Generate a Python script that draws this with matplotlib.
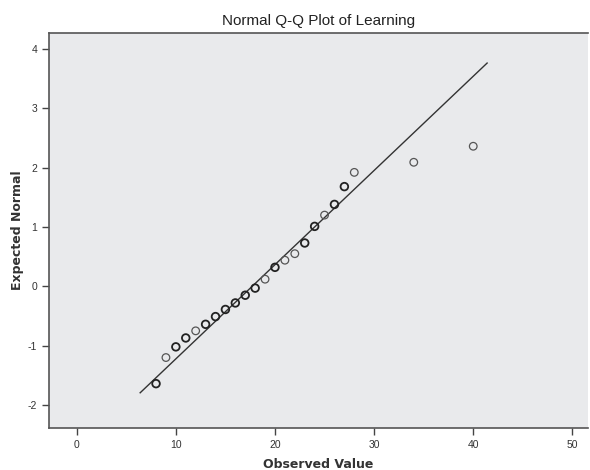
import matplotlib
matplotlib.use('Agg')
import matplotlib.pyplot as plt
import numpy as np

plt.rcParams['axes.unicode_minus'] = False

observed = [8, 9, 10, 11, 12, 13, 14, 15, 16, 17, 18, 19, 20, 21, 22, 23,
            24, 25, 26, 27, 28, 34, 40]
expected = [-1.64, -1.20, -1.02, -0.87, -0.75, -0.64, -0.51, -0.39, -0.28,
            -0.15, -0.03, 0.12, 0.32, 0.44, 0.55, 0.73, 1.01, 1.20, 1.38,
            1.68, 1.92, 2.09, 2.36]
# points that look darker (tied cases drawn on top of each other)
darker = [8, 10, 11, 13, 14, 15, 16, 17, 18, 20, 23, 24, 26, 27]

# reference line: normal with this mean / sd
line_mean = 17.7
line_sd = 6.3
line_x = [6.4, 41.4]

xticks = [0, 10, 20, 30, 40, 50]
yticks = [-2, -1, 0, 1, 2, 3, 4]

fig = plt.figure(figsize=(5.9, 4.7), dpi=100)
ax = fig.add_axes([0.083, 0.089, 0.914, 0.841])
ax.set_facecolor('#e9eaec')

lx = np.array(line_x)
ax.plot(lx, (lx - line_mean) / line_sd, color='#333333', lw=1.0, zorder=2)

for xv, yv in zip(observed, expected):
    if xv in darker:
        ec, lw = '#222222', 1.3
    else:
        ec, lw = '#555555', 0.9
    ax.scatter([xv], [yv], s=30, facecolors='none', edgecolors=ec,
               linewidths=lw, zorder=3)

ax.set_xlim(-2.8, 51.6)
ax.set_ylim(-2.39, 4.27)
ax.set_xticks(xticks)
ax.set_yticks(yticks)

for side in ['left', 'bottom', 'top']:
    ax.spines[side].set_color('#555555')
    ax.spines[side].set_linewidth(1.2)
ax.spines['right'].set_visible(False)

ax.tick_params(axis='both', direction='out', length=5, width=1.0,
               color='#444444', labelsize=7.5, labelcolor='#333333')
for lab in ax.get_xticklabels() + ax.get_yticklabels():
    lab.set_family('Liberation Sans')

ax.set_title('Normal Q-Q Plot of Learning', family='Liberation Sans',
             fontsize=11, color='#222222', pad=6)
ax.set_xlabel('Observed Value', family='DejaVu Sans', fontweight='bold',
              fontsize=9, color='#333333', labelpad=6)
ax.set_ylabel('Expected Normal', family='DejaVu Sans', fontweight='bold',
              fontsize=9, color='#333333', labelpad=3)

fig.savefig('out.png', dpi=100)
